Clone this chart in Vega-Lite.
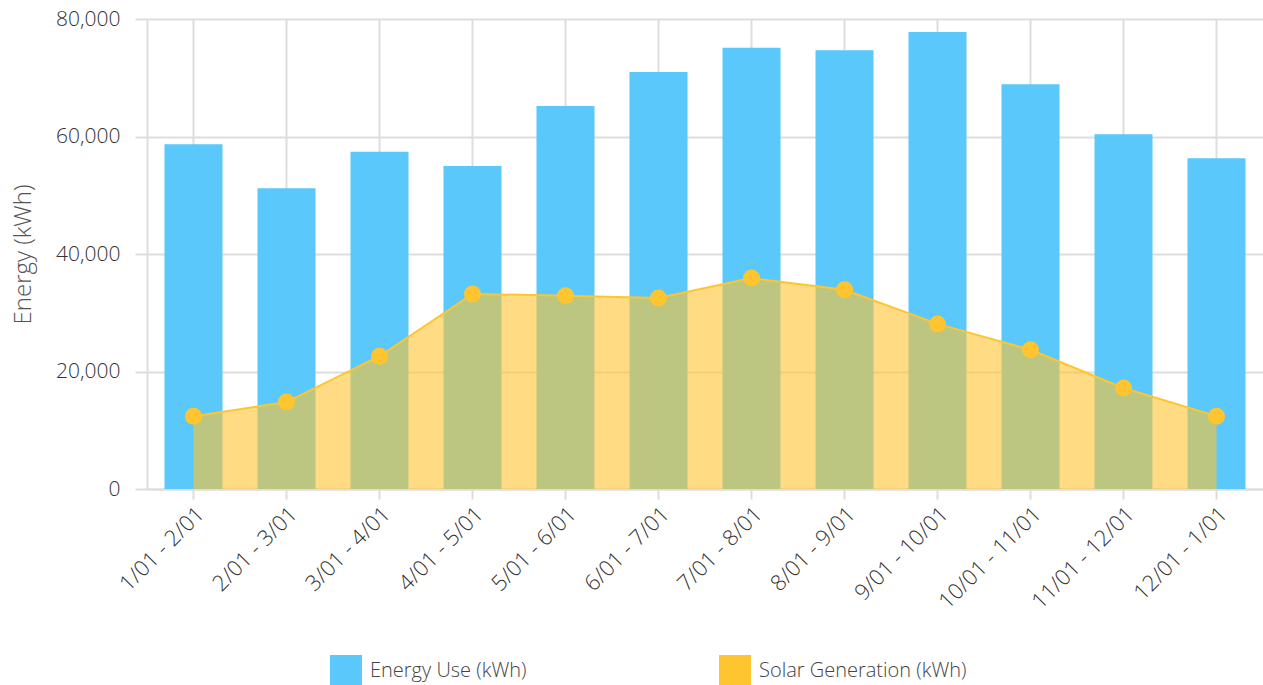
{
  "$schema": "https://vega.github.io/schema/vega-lite/v6.json",
  "width": 1116,
  "height": 470,
  "autosize": {"type": "none"},
  "padding": {"left": 147, "top": 19, "right": 0, "bottom": 196},
  "background": "white",
  "config": {
    "view": {"stroke": null},
    "font": "Open Sans",
    "axis": {
      "gridColor": "#DDDDDD",
      "gridWidth": 2,
      "domainColor": "#DDDDDD",
      "domainWidth": 2,
      "tickColor": "#DDDDDD",
      "tickWidth": 2,
      "labelFont": "Open Sans",
      "labelFontWeight": 300,
      "labelFontSize": 21,
      "labelColor": "#333333",
      "titleFont": "Open Sans",
      "titleFontWeight": 300,
      "titleFontSize": 24,
      "titleColor": "#555555"
    },
    "legend": {
      "labelFont": "Open Sans",
      "labelFontWeight": 300,
      "labelFontSize": 20,
      "labelColor": "#444444",
      "labelLimit": 400
    }
  },
  "data": {
    "values": [
      {"period": "1/01 - 2/01", "energy": 58700, "solar": 12400},
      {"period": "2/01 - 3/01", "energy": 51200, "solar": 14800},
      {"period": "3/01 - 4/01", "energy": 57400, "solar": 22600},
      {"period": "4/01 - 5/01", "energy": 55000, "solar": 33200},
      {"period": "5/01 - 6/01", "energy": 65200, "solar": 32900},
      {"period": "6/01 - 7/01", "energy": 71000, "solar": 32500},
      {"period": "7/01 - 8/01", "energy": 75100, "solar": 35900},
      {"period": "8/01 - 9/01", "energy": 74700, "solar": 33900},
      {"period": "9/01 - 10/01", "energy": 77800, "solar": 28100},
      {"period": "10/01 - 11/01", "energy": 68900, "solar": 23700},
      {"period": "11/01 - 12/01", "energy": 60400, "solar": 17200},
      {"period": "12/01 - 1/01", "energy": 56300, "solar": 12400}
    ]
  },
  "encoding": {
    "x": {
      "field": "period",
      "type": "nominal",
      "sort": null,
      "scale": {"paddingInner": 0, "paddingOuter": 0},
      "axis": {
        "title": null,
        "labelAngle": -45,
        "labelFontSize": 22,
        "grid": true,
        "tickSize": 10,
        "labelPadding": 4,
        "domain": true
      }
    }
  },
  "layer": [
    {
      "mark": {"type": "bar", "size": 58},
      "encoding": {
        "y": {
          "field": "energy",
          "type": "quantitative",
          "scale": {"domain": [0, 80000]},
          "axis": {
            "title": "Energy (kWh)",
            "values": [0, 20000, 40000, 60000, 80000],
            "format": ",d",
            "tickSize": 12,
            "labelPadding": 15,
            "titleBaseline": "alphabetic",
            "titleX": -117,
            "titleY": 235
          }
        },
        "color": {
          "datum": "Energy Use (kWh)",
          "scale": {
            "domain": ["Energy Use (kWh)", "Solar Generation (kWh)"],
            "range": ["#5AC8FA", "#FFC530"]
          },
          "legend": {
            "title": null,
            "orient": "none",
            "legendX": 183,
            "legendY": 636,
            "direction": "horizontal",
            "columns": 2,
            "columnPadding": 192,
            "symbolType": "square",
            "symbolSize": 1024,
            "symbolOpacity": 1,
            "symbolFillOpacity": 1,
            "symbolStrokeWidth": 0,
            "labelOffset": 8
          }
        }
      }
    },
    {
      "mark": {"type": "area", "fillOpacity": 0.6, "interpolate": "linear"},
      "encoding": {
        "y": {"field": "solar", "type": "quantitative"},
        "color": {"datum": "Solar Generation (kWh)"}
      }
    },
    {
      "mark": {"type": "line", "strokeWidth": 2, "interpolate": "linear"},
      "encoding": {
        "y": {"field": "solar", "type": "quantitative"},
        "color": {"datum": "Solar Generation (kWh)"}
      }
    },
    {
      "mark": {"type": "point", "filled": true, "opacity": 1, "size": 290, "shape": "circle"},
      "encoding": {
        "y": {"field": "solar", "type": "quantitative"},
        "color": {"datum": "Solar Generation (kWh)"}
      }
    }
  ]
}
